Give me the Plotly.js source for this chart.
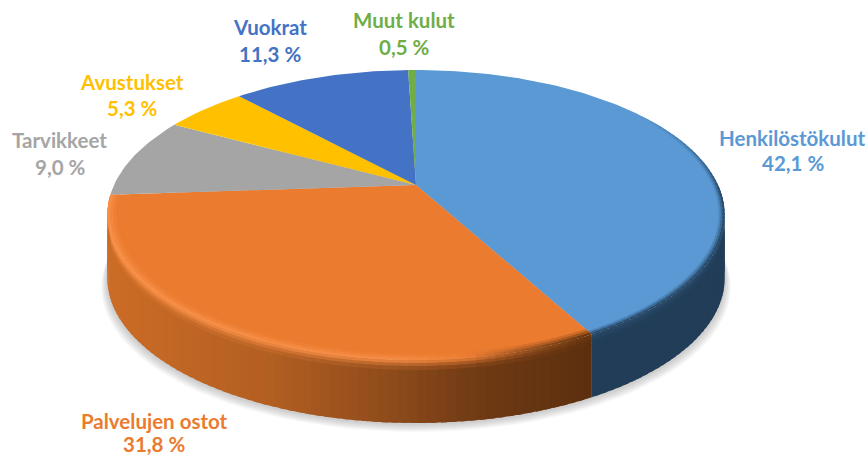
<!DOCTYPE html>
<html>
<head>
<meta charset="utf-8">
<script src="https://cdn.plot.ly/plotly-3.0.1.min.js"></script>
<style>html,body{margin:0;padding:0;background:#fff}#chart{width:868px;height:457px}</style>
</head>
<body>
<div id="chart"></div>
<script>
// Data, clockwise from twelve o'clock
const categories = ["Henkilöstökulut", "Palvelujen ostot", "Tarvikkeet", "Avustukset", "Vuokrat", "Muut kulut"];
const values = [42.1, 31.8, 9.0, 5.3, 11.3, 0.5];
const valueLabels = ["42,1 %", "31,8 %", "9,0 %", "5,3 %", "11,3 %", "0,5 %"];
const colors = ["#5A99D4", "#EA7B2F", "#A5A5A5", "#FFC000", "#4472C4", "#70AD47"];

// Label centres (name line x, name line y, value line x, value line y)
const labelNameX = [792, 154, 59, 132, 270, 404];
const labelNameY = [138, 421, 140, 82, 27, 20];
const labelValueX = [793, 154, 60, 132, 270, 404];
const labelValueY = [163, 444, 167, 108, 54, 47];

// Perspective disc geometry
const CX = 416, CY = 185, B = 302, A = 138.8, K = 0.207, DEPTH = 63;
function P(ang, r, d) {
  const u = r * Math.sin(ang), v = -r * Math.cos(ang), w = 1 - K * v;
  return [CX + B * u / w, CY + A * v / w + d];
}
function hex(c) { return [1, 3, 5].map(i => parseInt(c.substr(i, 2), 16)); }
function mix(a, b, t) {
  const p = hex(a), q = hex(b);
  return '#' + p.map((x, i) => Math.round(x + (q[i] - x) * t).toString(16).padStart(2, '0')).join('');
}
function ramp(x, xs, cs) {
  if (x <= xs[0]) return cs[0];
  for (let i = 1; i < xs.length; i++) if (x <= xs[i]) return mix(cs[i - 1], cs[i], (x - xs[i - 1]) / (xs[i] - xs[i - 1]));
  return cs[cs.length - 1];
}
function sideColor(i, x) {
  if (i === 0) return '#213D57';
  return ramp(x, [108, 270, 390, 480, 590], ['#CC6C26', '#B25F22', '#8E4B1B', '#6F3A14', '#5C2F0E']);
}
function rimColor(i, x) {
  if (i === 0) return mix(colors[0], '#213D57', 0.85);
  return ramp(x, [108, 400, 470, 530, 590], ['#F88F47', '#F68C44', '#EC7E35', '#9A5220', '#68360F']);
}
const traces = [];
function poly(pts, color, opacity) {
  const xs = pts.map(p => p[0]), ys = pts.map(p => p[1]);
  xs.push(xs[0]); ys.push(ys[0]);
  traces.push({ type: 'scatter', mode: 'lines', x: xs, y: ys, fill: 'toself', fillcolor: color,
    line: { color: color, width: 0 }, opacity: opacity, hoverinfo: 'skip', showlegend: false });
}
// Soft shadow under the disc
for (let s = 9; s >= 1; s--) {
  const pts = [];
  for (let i = 0; i <= 120; i++) {
    const p = P(i / 120 * 2 * Math.PI, 1, DEPTH);
    pts.push([CX + (p[0] - CX) * (1 + s * 0.0022), p[1] + s * 0.9 + 1]);
  }
  poly(pts, '#777777', 0.045);
}
// Slice angle bounds
const total = values.reduce((a, b) => a + b, 0);
const bounds = [0];
values.forEach(v => bounds.push(bounds[bounds.length - 1] + v / total * 2 * Math.PI));

// Side wall: blue first then orange over it, each strip overlapping the next so no seams show
const STEP = 1.5 * Math.PI / 180;
[0, 1].forEach(i => {
  const n = Math.ceil((bounds[i + 1] - bounds[i]) / STEP);
  const da = (bounds[i + 1] - bounds[i]) / n;
  for (let j = 0; j < n; j++) {
    const a0 = bounds[i] + da * j;
    const a1 = Math.min(bounds[i + 1], a0 + da * 1.6);
    if (-Math.cos(a0) < 0.02 && -Math.cos(a1) < 0.02) continue;
    const xm = P(a0 + da / 2, 1, 0)[0];
    const side = sideColor(i, xm), rim = rimColor(i, xm);
    const bands = [[0, 4, 0.2], [3, 7, 0.55], [6, 11, 0.85], [10, DEPTH, 1]];
    bands.forEach(b => poly([P(a0, 1, b[0]), P(a1, 1, b[0]), P(a1, 1, b[1]), P(a0, 1, b[1])], mix(rim, side, b[2]), 1));
  }
});
// Top faces
values.forEach((v, i) => {
  const pts = [P(0, 0, 0)];
  const n = Math.max(4, Math.ceil((bounds[i + 1] - bounds[i]) / 0.02));
  for (let j = 0; j <= n; j++) pts.push(P(bounds[i] + (bounds[i + 1] - bounds[i]) * j / n, 1, 0));
  poly(pts, colors[i], 1);
});
// Bevel along the front edge of the top faces
[0, 1].forEach(i => {
  const n = Math.ceil((bounds[i + 1] - bounds[i]) / STEP);
  const da = (bounds[i + 1] - bounds[i]) / n;
  for (let j = 0; j < n; j++) {
    const a0 = bounds[i] + da * j;
    const a1 = Math.min(bounds[i + 1], a0 + da * 1.6);
    const vm = -Math.cos(a0 + da / 2);
    if (vm < -0.55) continue;
    const fade = Math.min(1, (vm + 0.55) / 0.6);
    const xm = P(a0 + da / 2, 1, 0)[0];
    const rim = mix(colors[i], rimColor(i, xm), fade);
    const inner = i === 0 ? 0.982 : 0.972;
    const rs = [inner, inner + (1 - inner) / 3, inner + 2 * (1 - inner) / 3, 1];
    for (let b = 0; b < 3; b++) {
      poly([P(a0, rs[b], 0), P(a1, rs[b], 0), P(a1, rs[b + 1] , 0), P(a0, rs[b + 1], 0)], mix(colors[i], rim, [0.25, 0.6, 1][b]), 1);
    }
  }
});
// Labels
const annotations = [];
categories.forEach((c, i) => {
  const font = { family: 'Lato, "Open Sans", sans-serif', size: 20.5, color: colors[i], weight: 700 };
  annotations.push({ x: labelNameX[i], y: labelNameY[i], xref: 'x', yref: 'y', text: c, showarrow: false, font: font, xanchor: 'center', yanchor: 'middle' });
  annotations.push({ x: labelValueX[i], y: labelValueY[i], xref: 'x', yref: 'y', text: valueLabels[i], showarrow: false, font: font, xanchor: 'center', yanchor: 'middle' });
});
Plotly.newPlot('chart', traces, {
  width: 868, height: 457, margin: { l: 0, r: 0, t: 0, b: 0 },
  paper_bgcolor: '#fff', plot_bgcolor: '#fff', showlegend: false, hovermode: false,
  xaxis: { range: [0, 868], visible: false, fixedrange: true },
  yaxis: { range: [457, 0], visible: false, fixedrange: true },
  annotations: annotations
}, { displayModeBar: false, staticPlot: true });
</script>
</body>
</html>
